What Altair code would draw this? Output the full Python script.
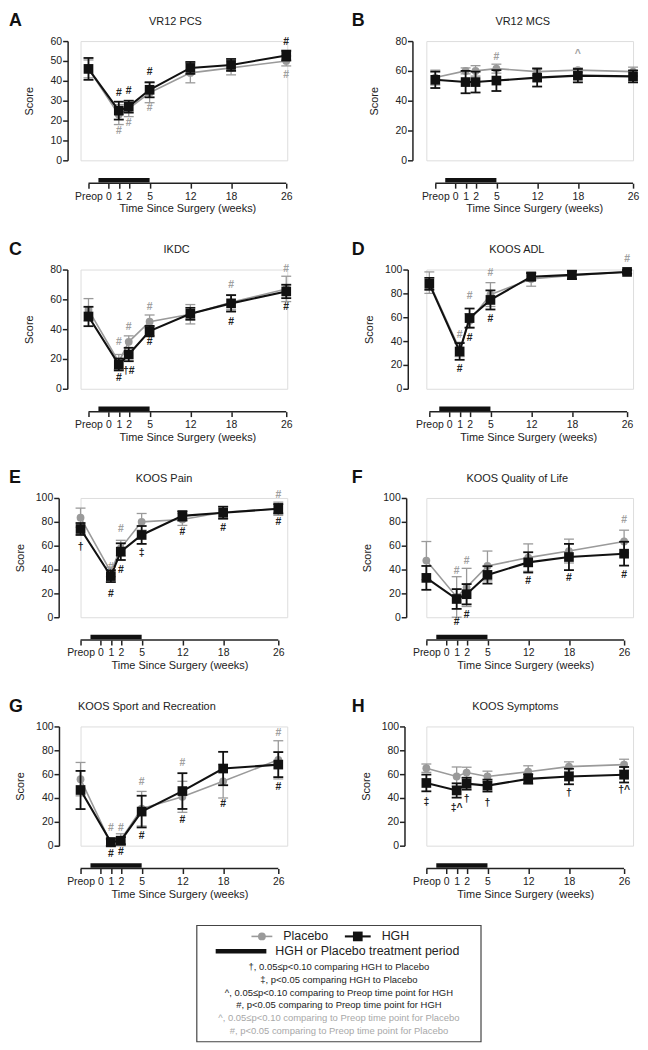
import altair as alt
import pandas as pd

# ---------------- data ----------------
WEEKS = [-3, 1, 2, 5, 12, 18, 26]              # -3 stands for "Preop"
TICK_WEEKS = [-3, 0, 1, 2, 5, 12, 18, 26]
TICK_LABELS = ["Preop", "0", "1", "2", "5", "12", "18", "26"]
TREATMENT = [-1.5, 5]                          # HGH / placebo treatment period
GROUPS = ["Placebo", "HGH"]

LETTERS = ["A", "B", "C", "D", "E", "F", "G", "H"]
NAMES = ["VR12 PCS", "VR12 MCS", "IKDC", "KOOS ADL", "KOOS Pain",
         "KOOS Quality of Life", "KOOS Sport and Recreation", "KOOS Symptoms"]
Y_MAX = [60, 80, 80, 100, 100, 100, 100, 100]
Y_STEP = [10, 20, 20, 20, 20, 20, 20, 20]

# A  VR12 PCS
A_HGH = [46, 25, 27, 35.5, 46.5, 48, 52.7]
A_HGH_ERR = [5.5, 4.5, 3, 3.8, 3, 3, 2.5]
A_PLA = [46, 23, 26, 34, 44, 46.5, 50]
A_PLA_ERR = [4.5, 5, 4, 5, 5, 3.5, 2.5]
# B  VR12 MCS
B_HGH = [54, 52.5, 52.5, 53.5, 55.5, 56.8, 56.3]
B_HGH_ERR = [5.5, 7.5, 7, 7, 6, 4.5, 4]
B_PLA = [55.5, 60, 60, 61.5, 59.5, 60.5, 59.5]
B_PLA_ERR = [5, 2, 3.5, 3, 2.5, 1.5, 3]
# C  IKDC
C_HGH = [48.5, 16.3, 23, 38.7, 50.3, 57.3, 65.3]
C_HGH_ERR = [6.5, 4, 4.5, 3.5, 4, 5.5, 4.5]
C_PLA = [53, 18, 31.5, 45, 50, 58, 67]
C_PLA_ERR = [7.5, 5, 4, 4.5, 6.5, 5, 8.5]
# D  KOOS ADL
D_HGH = [88, 31.3, 59.3, 74.5, 94, 95.5, 98]
D_HGH_ERR = [5, 7, 8, 8, 3, 3.5, 1.5]
D_PLA = [89, 33, 57, 79, 92, 95, 98]
D_PLA_ERR = [9, 6, 6, 10, 6, 3, 1.5]
# E  KOOS Pain
E_HGH = [74, 34.5, 55, 69, 85, 87.6, 91]
E_HGH_ERR = [5, 5, 7, 7.5, 4, 5, 4]
E_PLA = [83.5, 38, 58, 80, 82, 88, 91]
E_PLA_ERR = [8, 4, 6.5, 7, 5, 5, 5.5]
# F  KOOS Quality of Life
F_HGH = [33, 15.3, 19.3, 35.5, 46, 50.5, 53.3]
F_HGH_ERR = [10, 8.3, 8.5, 7.3, 8.5, 11, 10]
F_PLA = [47.5, 17, 25, 43, 50, 55.5, 63.5]
F_PLA_ERR = [16, 17, 16, 12.5, 11.5, 10, 9.5]
# G  KOOS Sport and Recreation
G_HGH = [46.7, 3, 4.2, 28.6, 45.8, 64.7, 68]
G_HGH_ERR = [16, 3, 3, 13.3, 15, 14, 10.5]
G_PLA = [55.8, 2, 5, 31, 41, 54, 72]
G_PLA_ERR = [14, 3, 5, 14.5, 13, 14, 16]
# H  KOOS Symptoms
H_HGH = [52.6, 46.3, 52, 50.4, 56, 58, 59.5]
H_HGH_ERR = [7, 6, 5, 5, 4, 6.5, 6.5]
H_PLA = [65, 58, 61.3, 58, 62, 66.3, 68]
H_PLA_ERR = [3.5, 8, 4.5, 4.5, 5, 4, 4.5]

# significance marks: (week, score level, symbol, group)
A_MARKS = [(1, 34, "#", "HGH"), (2, 35, "#", "HGH"), (5, 44.5, "#", "HGH"), (26, 59.7, "#", "HGH"),
           (1, 14.5, "#", "Placebo"), (2, 19, "#", "Placebo"), (5, 26.5, "#", "Placebo"), (26, 43, "#", "Placebo")]
B_MARKS = [(5, 69.5, "#", "Placebo"), (18, 71, "^", "Placebo")]
C_MARKS = [(1, 31.7, "#", "Placebo"), (2, 41.4, "#", "Placebo"), (5, 55, "#", "Placebo"),
           (18, 69.8, "#", "Placebo"), (26, 80.5, "#", "Placebo"),
           (1, 7.4, "#", "HGH"), (2, 11.6, "†#", "HGH"), (5, 31.3, "#", "HGH"),
           (18, 45, "#", "HGH"), (26, 54.8, "#", "HGH")]
D_MARKS = [(1, 45, "#", "Placebo"), (2, 77.4, "#", "Placebo"), (5, 97, "#", "Placebo"), (26, 109, "#", "Placebo"),
           (1, 16.2, "#", "HGH"), (2, 42.7, "#", "HGH"), (5, 58.7, "#", "HGH")]
E_MARKS = [(-3, 59.3, "†", "HGH"), (1, 42, "#", "Placebo"), (2, 74, "#", "Placebo"), (26, 102.7, "#", "Placebo"),
           (1, 19.3, "#", "HGH"), (2, 39.4, "#", "HGH"), (5, 53.7, "‡", "HGH"),
           (12, 71.6, "#", "HGH"), (18, 74.4, "#", "HGH"), (26, 80.2, "#", "HGH")]
F_MARKS = [(1, 39, "#", "Placebo"), (2, 47.3, "#", "Placebo"), (26, 81.4, "#", "Placebo"),
           (1, -4, "#", "HGH"), (2, 2.2, "#", "HGH"), (12, 30, "#", "HGH"),
           (18, 32.8, "#", "HGH"), (26, 35.5, "#", "HGH")]
G_MARKS = [(1, 14.7, "#", "Placebo"), (2, 14.7, "#", "Placebo"), (5, 53.7, "#", "Placebo"),
           (12, 69, "#", "Placebo"), (26, 94.7, "#", "Placebo"),
           (1, -7, "#", "HGH"), (2, -5.5, "#", "HGH"), (5, 7.8, "#", "HGH"),
           (12, 21.7, "#", "HGH"), (18, 35, "#", "HGH"), (26, 49, "#", "HGH")]
H_MARKS = [(-3, 36.7, "‡", "HGH"), (1, 31.2, "‡^", "HGH"), (2, 38.9, "†", "HGH"),
           (5, 35.6, "†", "HGH"), (18, 44.4, "†", "HGH"), (26, 47.1, "†^", "HGH")]

SERIES = {
    "A": (A_HGH, A_HGH_ERR, A_PLA, A_PLA_ERR, A_MARKS),
    "B": (B_HGH, B_HGH_ERR, B_PLA, B_PLA_ERR, B_MARKS),
    "C": (C_HGH, C_HGH_ERR, C_PLA, C_PLA_ERR, C_MARKS),
    "D": (D_HGH, D_HGH_ERR, D_PLA, D_PLA_ERR, D_MARKS),
    "E": (E_HGH, E_HGH_ERR, E_PLA, E_PLA_ERR, E_MARKS),
    "F": (F_HGH, F_HGH_ERR, F_PLA, F_PLA_ERR, F_MARKS),
    "G": (G_HGH, G_HGH_ERR, G_PLA, G_PLA_ERR, G_MARKS),
    "H": (H_HGH, H_HGH_ERR, H_PLA, H_PLA_ERR, H_MARKS),
}

LEGEND_TREATMENT = "HGH or Placebo treatment period"
NOTES_BLACK = ["†, 0.05≤p<0.10 comparing HGH to Placebo",
               "‡, p<0.05 comparing HGH to Placebo",
               "^, 0.05≤p<0.10 comparing to Preop time point for HGH",
               "#, p<0.05 comparing to Preop time point for HGH"]
NOTES_GREY = ["^, 0.05≤p<0.10 comparing to Preop time point for Placebo",
              "#, p<0.05 comparing to Preop time point for Placebo"]

# ---------------- style / layout ----------------
FONT = "Liberation Sans"
GREY = "#9a9a9a"
BLACK = "#111111"
INK = "#222222"
W, H = 208, 120
X_RANGE = [0, 20, 30.5, 40.5, 61.5, 102.5, 143.5, 199]   # GraphPad-like axis spacing
SHIFT = {"A": 8, "B": 9, "C": 8, "D": 3, "E": 0, "F": 0, "G": 0, "H": 0}
YAXIS_GAP = {"A": 21, "B": 23, "C": 21.3, "D": 21.7, "E": 22, "F": 20.3, "G": 21.7, "H": 22}
TITLE_X = {"A": 95.5, "B": 97, "C": 96.7, "D": 91, "E": 84, "F": 91.5, "G": 66.7, "H": 89.5}
LETTER_X = [-72, -75]
LETTER_Y = -29
LEG_Y = 200.3          # legend box top relative to panel G


def label_expr():
    expr = "''"
    for w, l in reversed(list(zip(TICK_WEEKS, TICK_LABELS))):
        expr = f"datum.value == {w} ? '{l}' : ({expr})"
    return expr


ONE = pd.DataFrame({"k": [0]})


def deco_text(text, x, y, size, color=INK, align="left", weight="normal", baseline="middle"):
    return alt.Chart(ONE).mark_text(
        align=align, baseline=baseline, font=FONT, fontSize=size,
        fontWeight=weight, color=color
    ).encode(x=alt.value(x), y=alt.value(y), text=alt.value(text))


def panel(i):
    key = LETTERS[i]
    col = i % 2
    hgh, hgh_err, pla, pla_err, marks = SERIES[key]
    s = SHIFT[key]

    xs = alt.Scale(domain=TICK_WEEKS, range=[s + r for r in X_RANGE], nice=False, zero=False)
    xa = alt.Axis(values=TICK_WEEKS, labelExpr=label_expr(), domain=False, grid=False,
                  ticks=True, tickSize=5, tickWidth=1.5, tickColor=INK,
                  labelFont=FONT, labelFontSize=10.5, labelColor=INK, labelPadding=3,
                  labelOverlap=False, labelFlush=False, offset=23,
                  title="Time Since Surgery (weeks)", titleFont=FONT, titleFontSize=11,
                  titleFontWeight="normal", titleColor=INK, titleX=s + 99.5, titleY=26,
                  titleBaseline="middle", titleAlign="center")
    ys = alt.Scale(domain=[0, Y_MAX[i]], nice=False, zero=True)
    ya = alt.Axis(values=list(range(0, Y_MAX[i] + 1, Y_STEP[i])), grid=False,
                  domain=True, domainWidth=1.5, domainColor=INK,
                  tickSize=5, tickWidth=1.5, tickColor=INK,
                  labelFont=FONT, labelFontSize=10.5, labelColor=INK, labelPadding=1,
                  labelFlush=False, offset=YAXIS_GAP[key] - s,
                  title="Score", titleFont=FONT, titleFontSize=11, titleFontWeight="normal",
                  titleColor=INK, titleX=-38.5, titleY=H / 2, titleAngle=270,
                  titleBaseline="middle", titleAlign="center")

    def X(f):
        return alt.X(f, type="quantitative", scale=xs, axis=xa)

    def Y(f):
        return alt.Y(f, type="quantitative", scale=ys, axis=ya)

    layers = []
    for grp, mean, err, color, sw in (("Placebo", pla, pla_err, GREY, 1.3),
                                       ("HGH", hgh, hgh_err, BLACK, 1.8)):
        df = pd.DataFrame({"week": WEEKS, "mean": mean,
                           "lo": [m - e for m, e in zip(mean, err)],
                           "hi": [m + e for m, e in zip(mean, err)]})
        base = alt.Chart(df)
        layers.append(base.mark_rule(color=color, strokeWidth=sw).encode(
            x=X("week"), y=Y("lo"), y2="hi"))
        for f in ("lo", "hi"):
            layers.append(base.mark_tick(orient="horizontal", size=10, thickness=sw,
                                         color=color, opacity=1).encode(x=X("week"), y=Y(f)))
        layers.append(base.mark_line(color=color, strokeWidth=1.6 if grp == "Placebo" else 2.1).encode(
            x=X("week"), y=Y("mean")))
        if grp == "Placebo":
            layers.append(base.mark_circle(size=62, color=color, opacity=1).encode(
                x=X("week"), y=Y("mean")))
        else:
            layers.append(base.mark_square(size=95, color=color, opacity=1).encode(
                x=X("week"), y=Y("mean")))

    mdf = pd.DataFrame(marks, columns=["week", "level", "sym", "group"])
    layers.append(alt.Chart(mdf).mark_text(font=FONT, fontSize=10.5, fontWeight="bold",
                                           baseline="middle", align="center").encode(
        x=X("week"), y=Y("level"), text="sym:N",
        color=alt.Color("group:N", scale=alt.Scale(domain=GROUPS, range=["#a0a0a0", INK]), legend=None)))

    # treatment period bar and x axis line
    layers.append(alt.Chart(ONE).mark_rule(color=BLACK, strokeWidth=4.5).encode(
        x=alt.XDatum(TREATMENT[0], type="quantitative", scale=xs, axis=xa),
        x2=alt.X2Datum(TREATMENT[1]), y=alt.value(H + 20)))
    layers.append(alt.Chart(ONE).mark_rule(color=INK, strokeWidth=1.5).encode(
        x=alt.XDatum(TICK_WEEKS[0], type="quantitative", scale=xs, axis=xa),
        x2=alt.X2Datum(TICK_WEEKS[-1]), y=alt.value(H + 23)))

    # panel letter and name
    layers.append(deco_text(key, LETTER_X[col], LETTER_Y, 18, color=BLACK,
                            weight="bold", baseline="top"))
    layers.append(deco_text(NAMES[i], TITLE_X[key], -19.5, 11, align="center"))

    if key == "G":
        # figure legend (box below the panels)
        ly = LEG_Y
        layers.append(alt.Chart(ONE).mark_rect(fill="white", fillOpacity=0, stroke="#444444",
                                               strokeWidth=1.2).encode(
            x=alt.value(117), x2=alt.value(403), y=alt.value(ly), y2=alt.value(ly + 117)))
        layers.append(alt.Chart(ONE).mark_rule(color=GREY, strokeWidth=1.6).encode(
            x=alt.value(172), x2=alt.value(193), y=alt.value(ly + 11)))
        layers.append(alt.Chart(ONE).mark_circle(size=62, color=GREY, opacity=1).encode(
            x=alt.value(182.5), y=alt.value(ly + 11)))
        layers.append(deco_text(GROUPS[0], 204, ly + 11, 12.5))
        layers.append(alt.Chart(ONE).mark_rule(color=BLACK, strokeWidth=2.1).encode(
            x=alt.value(266), x2=alt.value(292), y=alt.value(ly + 11)))
        layers.append(alt.Chart(ONE).mark_square(size=95, color=BLACK, opacity=1).encode(
            x=alt.value(279), y=alt.value(ly + 11)))
        layers.append(deco_text(GROUPS[1], 303, ly + 11, 12.5))
        layers.append(alt.Chart(ONE).mark_rule(color=BLACK, strokeWidth=4.5).encode(
            x=alt.value(136), x2=alt.value(187), y=alt.value(ly + 26)))
        layers.append(deco_text(LEGEND_TREATMENT, 196, ly + 26, 12.5))
        for j, note in enumerate(NOTES_BLACK + NOTES_GREY):
            layers.append(deco_text(note, 260, ly + 42 + 12.8 * j, 9.5,
                                    color=INK if j < len(NOTES_BLACK) else "#a8a8a8",
                                    align="center"))

    return alt.layer(*layers).properties(width=W, height=H)


chart = alt.concat(*[panel(i) for i in range(8)], columns=2,
                   spacing={"row": 109.9, "column": 140}, bounds="flush").properties(
    padding=0
).configure_view(stroke=None).configure(font=FONT)

chart.save("out.html", embed_options={"renderer": "svg", "actions": False})
